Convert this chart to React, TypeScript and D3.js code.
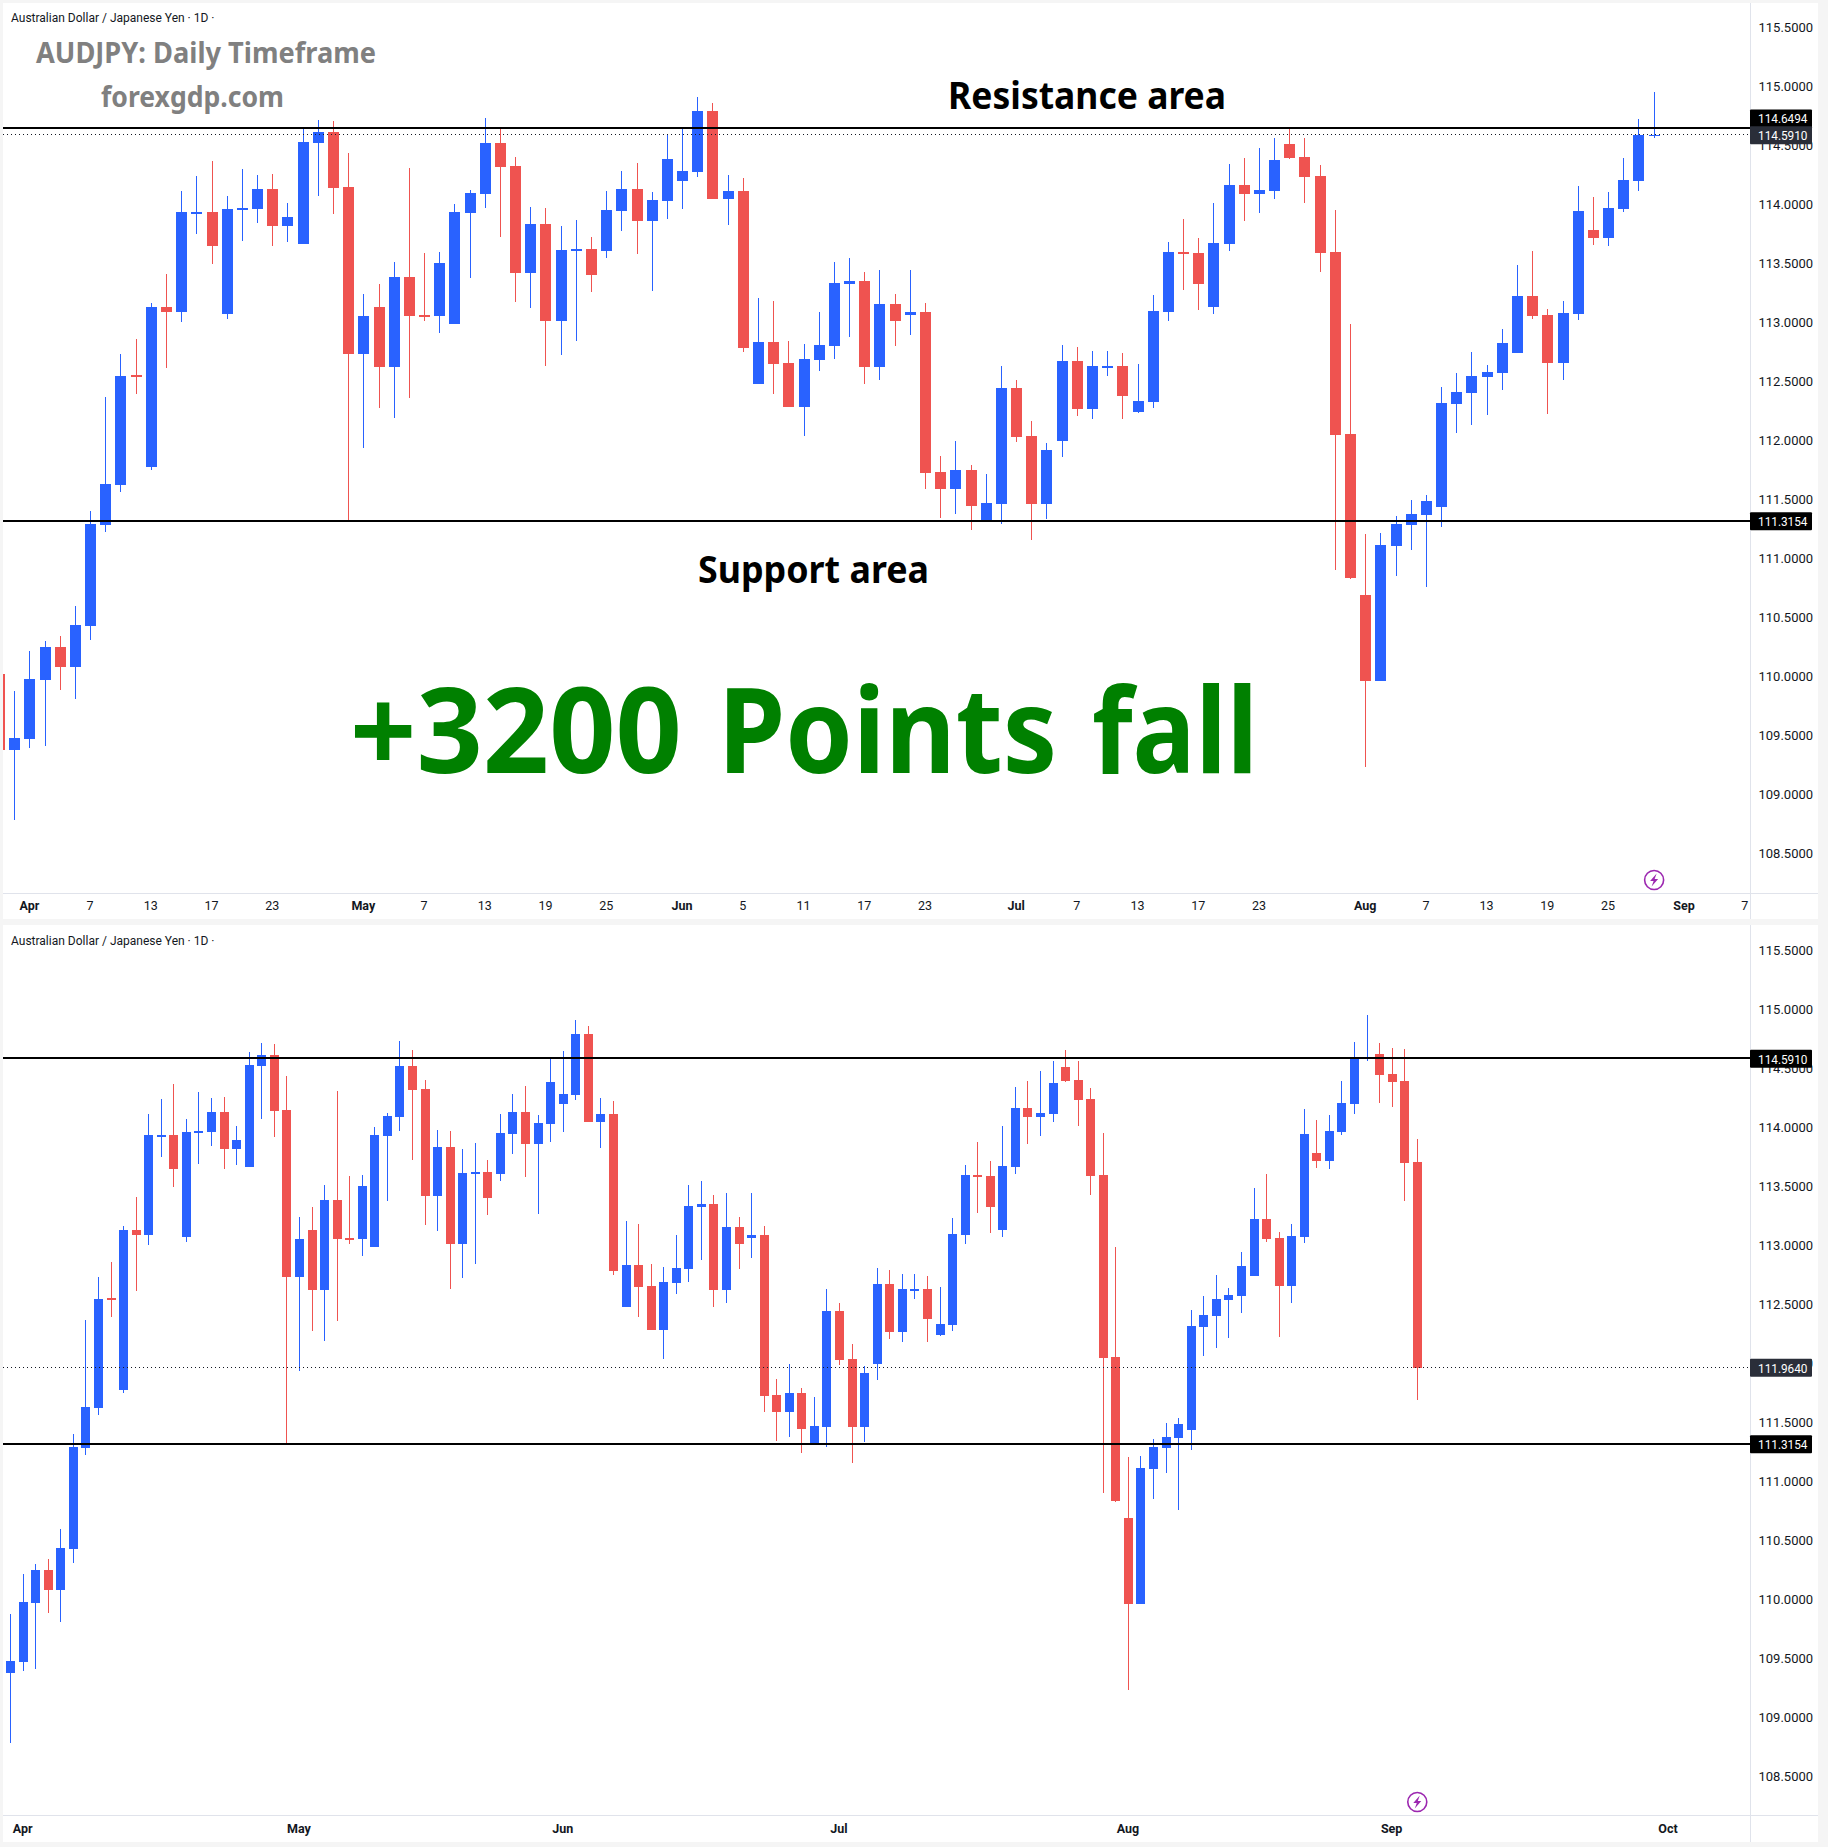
import React from "react";
import * as d3 from "d3";

const opens = [
110.02,109.377,109.470,109.970,110.250,110.080,110.428,111.284,111.623,112.552,
111.775,113.131,113.089,113.927,113.936,113.072,113.960,113.962,114.131,113.818,
113.665,114.521,114.614,114.148,112.733,113.131,112.623,113.386,113.061,113.055,
112.987,113.928,114.089,114.521,114.326,113.419,113.835,113.013,113.610,113.623,
113.606,113.945,114.132,113.861,114.030,114.200,114.276,114.793,114.047,114.115,
112.479,112.835,112.657,112.284,112.683,112.801,113.327,113.352,112.623,113.157,
113.064,113.089,111.733,111.589,111.750,111.315,111.462,112.445,112.039,111.462,
111.996,112.674,112.267,112.620,112.632,112.242,112.327,113.089,113.598,113.589,
113.132,113.666,114.166,114.089,114.115,114.513,114.403,114.242,113.598,112.055,
110.691,109.962,111.106,111.284,111.369,111.437,112.310,112.403,112.538,112.572,
112.742,113.225,113.064,112.657,113.072,113.784,113.716,113.962,114.200,114.585,
114.623,114.453,114.394,113.708];

const highs = [
110.02,109.877,110.216,110.301,110.343,110.597,111.402,112.371,112.733,112.860,
113.165,113.411,114.114,114.241,114.369,114.072,114.301,114.250,114.258,114.013,
114.640,114.716,114.708,114.436,113.241,113.326,113.513,114.309,113.589,113.597,
114.004,114.123,114.733,114.657,114.403,113.979,113.970,113.818,113.869,113.725,
114.114,114.284,114.352,114.106,114.589,114.649,114.911,114.861,114.250,114.225,
113.208,113.183,112.844,112.818,113.089,113.513,113.547,113.428,113.445,113.242,
113.445,113.166,111.869,111.996,111.793,111.716,112.632,112.513,112.166,111.979,
112.810,112.793,112.759,112.759,112.742,112.649,113.233,113.683,113.877,113.716,
114.013,114.344,114.394,114.479,114.564,114.657,114.564,114.335,113.954,112.988,
111.208,111.216,111.360,111.496,111.539,112.454,112.572,112.750,112.640,112.945,
113.488,113.606,113.115,113.183,114.157,114.064,114.106,114.394,114.725,114.954,
114.716,114.674,114.665,113.903];

const lows = [
109.38,108.784,109.394,109.411,109.885,109.809,110.309,111.224,111.563,112.394,
111.750,112.614,113.004,113.750,113.496,113.030,113.691,113.843,113.648,113.682,
113.665,114.072,113.919,111.318,111.936,112.275,112.191,112.360,113.013,112.911,
112.987,113.377,113.970,113.725,113.174,113.123,112.631,112.725,112.843,113.258,
113.547,113.776,113.581,113.267,113.878,113.962,114.233,114.047,113.827,112.750,
112.479,112.394,112.284,112.039,112.589,112.691,112.877,112.479,112.513,112.801,
112.894,111.589,111.344,111.378,111.242,111.315,111.293,111.988,111.157,111.335,
111.861,112.208,112.183,112.547,112.183,112.233,112.276,113.013,113.276,113.106,
113.072,113.606,113.861,113.928,114.047,114.386,114.013,113.428,110.903,110.827,
109.233,109.962,110.852,111.072,110.759,111.267,112.064,112.132,112.216,112.428,
112.742,113.030,112.225,112.513,113.022,113.657,113.649,113.937,114.115,114.564,
114.208,114.174,113.377,111.691];

const closes = [
109.38,109.479,109.979,110.250,110.080,110.436,111.292,111.631,112.547,112.540,
113.131,113.089,113.936,113.934,113.648,113.962,113.968,114.131,113.818,113.894,
114.530,114.614,114.140,112.733,113.055,112.623,113.386,113.055,113.050,113.504,
113.936,114.097,114.521,114.318,113.419,113.835,113.013,113.614,113.620,113.403,
113.953,114.132,113.861,114.039,114.386,114.284,114.793,114.047,114.115,112.784,
112.835,112.649,112.284,112.691,112.810,113.335,113.352,112.623,113.157,113.013,
113.089,111.725,111.589,111.750,111.445,111.471,112.445,112.030,111.462,111.920,
112.674,112.267,112.632,112.630,112.378,112.335,113.098,113.598,113.581,113.327,
113.674,114.166,114.089,114.123,114.377,114.394,114.233,113.589,112.047,110.835,
109.962,111.115,111.293,111.377,111.488,112.318,112.411,112.547,112.581,112.827,
113.225,113.056,112.657,113.081,113.945,113.716,113.971,114.208,114.589,114.592,
114.445,114.386,113.699,111.964];

const priceTicks = [115.5,115,114.5,114,113.5,113,112.5,112,111.5,111,110.5,110,109.5,109,108.5];
const topTimeIdx = [2,6,10,14,18,24,28,32,36,40,45,49,53,57,61,67,71,75,79,83,90,94,98,102,106,111,115];
const topTimeLab = ["Apr","7","13","17","23","May","7","13","19","25","Jun","5","11","17","23","Jul","7","13","17","23","Aug","7","13","19","25","Sep","7"];
const botTimeIdx = [2,24,45,67,90,111,133];
const botTimeLab = ["Apr","May","Jun","Jul","Aug","Sep","Oct"];
const months = ["Apr","May","Jun","Jul","Aug","Sep","Oct"];
const resistance = 114.6494;
const lastTop = 114.591;
const support = 111.3154;
const lastBottom = 111.964;

const UI = "Roboto, 'Open Sans', sans-serif";
const HEAD = "'Noto Sans', 'Open Sans', sans-serif";

type PaneProps = {
  top: number; bottom: number; axisY: number; y115: number;
  step: number; x0: number; bw: number; count: number;
  tIdx: number[]; tLab: string[]; tickDy: number; titleDy: number;
  lines: { p: number; label: string; shift: number }[];
  dotted: { p: number; label: string; fill: string; shift: number };
  id: string;
};

function Pane({ top, bottom, axisY, y115, step, x0, bw, count, tIdx, tLab, tickDy, titleDy, lines, dotted, id }: PaneProps) {
  const left = 3, plotRight = 1750, right = 1818;
  const y = d3.scaleLinear().domain([115, 114]).range([y115, y115 + 118]);
  const x = d3.scaleLinear().domain([0, 1]).range([x0, x0 + step]);
  const idx = d3.range(count);
  const label = (yy: number, t: string, fill: string, color = "#fff") => (
    <g key={t}>
      <rect x={plotRight} y={yy - 9} width={62} height={18} rx={1} fill={fill} />
      <text x={1758} y={yy + 4.8} fontFamily={UI} fontSize={13.5} fill={color} textLength={49.5} lengthAdjust="spacingAndGlyphs">{t}</text>
    </g>
  );
  return (
    <g>
      <rect x={left} y={top} width={right - left} height={bottom - top} fill="#fff" />
      <clipPath id={id}><rect x={left} y={top} width={plotRight - left} height={axisY - top} /></clipPath>
      {priceTicks.map((p) => (
        <text key={p} x={1758.5} y={y(p) + 4.6} fontFamily={UI} fontSize={13} fill="#131722">{p.toFixed(4)}</text>
      ))}
      <line x1={plotRight + 0.5} x2={plotRight + 0.5} y1={top} y2={bottom} stroke="#e0e3eb" />
      <line x1={left} x2={right} y1={axisY + 0.5} y2={axisY + 0.5} stroke="#e0e3eb" />
      {tIdx.map((t, k) => (
        <text key={k} x={x(t) - 0.5} y={axisY + tickDy} textAnchor="middle" fontFamily={UI} fontSize={12.5}
          fontWeight={months.includes(tLab[k]) ? 700 : 400} fill="#131722">{tLab[k]}</text>
      ))}
      <text x={11} y={top + titleDy} fontFamily={UI} fontSize={12} fill="#131722">Australian Dollar / Japanese Yen · 1D ·</text>
      <g clipPath={`url(#${id})`} shapeRendering="crispEdges">
        {idx.map((i) => {
          const up = closes[i] >= opens[i];
          const c = up ? "#2962ff" : "#ef5350";
          const cx = Math.round(x(i) - 0.5);
          const t = y(Math.max(opens[i], closes[i]));
          const b = y(Math.min(opens[i], closes[i]));
          return (
            <g key={i}>
              <rect x={cx} y={y(highs[i])} width={1} height={y(lows[i]) - y(highs[i])} fill={c} />
              <rect x={cx - (bw - 1) / 2} y={t} width={bw} height={Math.max(1.5, b - t)} fill={c} />
            </g>
          );
        })}
        <line x1={left} x2={plotRight} y1={y(dotted.p)} y2={y(dotted.p)} stroke="#131722" strokeDasharray="1 3" />
        {lines.map((l) => (
          <rect key={l.p} x={left} y={Math.round(y(l.p)) - 1} width={plotRight - left} height={2} fill="#000" />
        ))}
      </g>
      {lines.map((l) => label(y(l.p) + l.shift, l.label, "#000"))}
      {label(y(dotted.p) + dotted.shift, dotted.label, dotted.fill)}
      <g transform={`translate(${x(count - 1)},${axisY - 13})`}>
        <circle r={9.5} fill="none" stroke="#9c27b0" strokeWidth={1.6} />
        <path d="M2.5,-6.5 L-4,1 L-0.5,1 L-2.5,6.5 L4,-1 L0.5,-1 Z" fill="#9c27b0" />
      </g>
    </g>
  );
}

export default function App() {
  return (
    <svg width={1828} height={1847} style={{ position: "absolute", left: 0, top: 0, display: "block" }}>
      <rect width={1828} height={1847} fill="#f5f5f5" />
      <Pane id="c1" top={3} bottom={919} axisY={893} y115={86.5} step={15.18} x0={-0.5} bw={11} count={110}
        tIdx={topTimeIdx} tLab={topTimeLab} tickDy={17} titleDy={19}
        lines={[{ p: resistance, label: "114.6494", shift: -9.4 }, { p: support, label: "111.3154", shift: 0 }]}
        dotted={{ p: lastTop, label: "114.5910", fill: "#2a2e39", shift: 0.5 }} />
      <Pane id="c2" top={925} bottom={1842} axisY={1815} y115={1009.5} step={12.56} x0={-2} bw={9} count={114}
        tIdx={botTimeIdx} tLab={botTimeLab} tickDy={18} titleDy={20}
        lines={[{ p: lastTop, label: "114.5910", shift: 1 }, { p: support, label: "111.3154", shift: 0 }]}
        dotted={{ p: lastBottom, label: "111.9640", fill: "#2a2e39", shift: 0 }} />
      <g fontFamily={HEAD} fontWeight={700}>
        <text x={36} y={63} fontSize={28} fill="#808080" textLength={340} lengthAdjust="spacingAndGlyphs">AUDJPY: Daily Timeframe</text>
        <text x={101} y={107} fontSize={28} fill="#808080" textLength={183} lengthAdjust="spacingAndGlyphs">forexgdp.com</text>
        <text x={948} y={108.5} fontSize={37} fill="#000" textLength={278} lengthAdjust="spacingAndGlyphs">Resistance area</text>
        <text x={698} y={583} fontSize={37} fill="#000" textLength={231} lengthAdjust="spacingAndGlyphs">Support area</text>
        <text y={772.5} fontSize={118} fill="#008000">
          <tspan x={350} textLength={332} lengthAdjust="spacingAndGlyphs">+3200</tspan>{" "}
          <tspan x={718} textLength={339} lengthAdjust="spacingAndGlyphs">Points</tspan>{" "}
          <tspan x={1092} textLength={166} lengthAdjust="spacingAndGlyphs">fall</tspan>
        </text>
      </g>
    </svg>
  );
}
